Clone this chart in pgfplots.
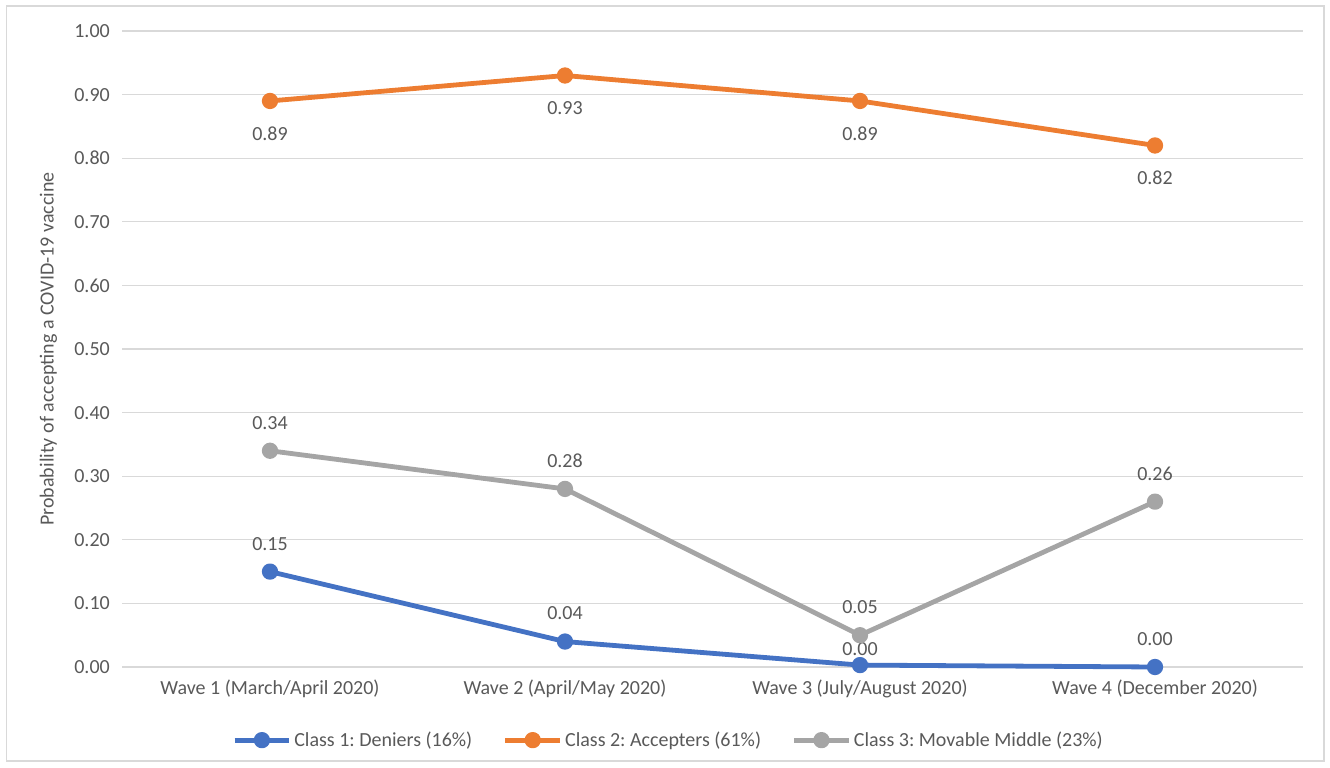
\documentclass[border=0pt]{standalone}
\usepackage{fontspec}
\setmainfont{Carlito}
\usepackage{pgfplots}
\pgfplotsset{compat=1.18}
\definecolor{deniers}{HTML}{4472C4}
\definecolor{accepters}{HTML}{ED7D31}
\definecolor{movable}{HTML}{A5A5A5}
\definecolor{gridcol}{HTML}{D9D9D9}
\definecolor{textcol}{HTML}{595959}
\frenchspacing
\begin{document}
\begin{tikzpicture}[font=\fontsize{15}{18}\selectfont]
\useasboundingbox (-91.875pt,-75pt) rectangle (905.625pt,500.25pt);
\draw[gridcol, line width=1pt] (-87pt,-70.5pt) rectangle (901pt,495.75pt);
\begin{axis}[
  at={(0pt,0pt)}, anchor=south west,
  scale only axis, width=885pt, height=477pt,
  xmin=-0.5, xmax=3.5, ymin=0, ymax=1,
  xtick={0,1,2,3},
  xticklabels={Wave 1 (March/April 2020), Wave 2 (April/May 2020), Wave 3 (July/August 2020), Wave 4 (December 2020)},
  ytick={0,0.1,0.2,0.3,0.4,0.5,0.6,0.7,0.8,0.9,1},
  /pgf/number format/fixed, /pgf/number format/fixed zerofill,
  /pgf/number format/precision=2,
  /pgf/number format/assume math mode=true,
  axis line style={draw=none}, tick style={draw=none},
  ymajorgrids, grid style={gridcol, line width=1pt},
  tick label style={text=textcol},
  xticklabel style={yshift=-6pt},
  yticklabel style={xshift=-6pt},
  ylabel={Probability of accepting a COVID-19 vaccine},
  ylabel style={text=textcol, yshift=6pt},
  clip=false,
  legend columns=-1,
  legend style={at={(0.463,-0.115)}, anchor=center, draw=none, fill=none,
    text=textcol, /tikz/every even column/.append style={column sep=21pt}},
  legend image code/.code={\draw[mark repeat=2,mark phase=2,#1] plot coordinates {(0pt,0pt) (20.5pt,0pt) (41pt,0pt)};},
  every axis plot/.append style={line width=3.6pt, line join=round, mark=*, mark size=4.3pt,
    mark options={solid, line width=0pt}},
  nodes near coords,
  every node near coord/.append style={text=textcol, anchor=center},
]
\addplot[deniers, mark options={fill=deniers, draw=deniers},
  every node near coord/.append style={yshift=21pt},
  coordinate style/.condition={x==2}{yshift=-9pt}]
  coordinates {(0,0.15) (1,0.04) (2,0.003) (3,0.0)};
\addlegendentry{Class 1: Deniers (16\%)}
\addplot[accepters, mark options={fill=accepters, draw=accepters},
  every node near coord/.append style={yshift=-24.5pt}]
  coordinates {(0,0.89) (1,0.93) (2,0.89) (3,0.82)};
\addlegendentry{Class 2: Accepters (61\%)}
\addplot[movable, mark options={fill=movable, draw=movable},
  every node near coord/.append style={yshift=21pt}]
  coordinates {(0,0.34) (1,0.28) (2,0.05) (3,0.26)};
\addlegendentry{Class 3: Movable Middle (23\%)}
\end{axis}
\end{tikzpicture}
\end{document}
